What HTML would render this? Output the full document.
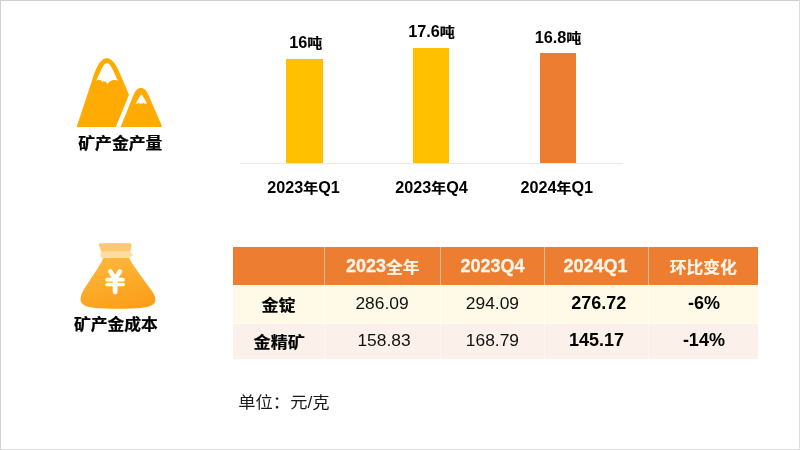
<!DOCTYPE html>
<html lang="zh">
<head>
<meta charset="utf-8">
<title>矿产金产量与成本</title>
<style>
html,body{margin:0;padding:0;background:#fff;}
body{width:800px;height:450px;position:relative;overflow:hidden;font-family:"Liberation Sans","Noto Sans CJK SC",sans-serif;color:#000;}
.abs{position:absolute;}
.frame{position:absolute;left:0;top:0;width:800px;height:450px;box-sizing:border-box;border-top:1px solid #cfcfcf;border-left:1px solid #d2d2d2;border-right:1px solid #dedede;border-bottom:1px solid #dedede;}
.t{position:absolute;white-space:nowrap;text-align:center;font-family:"Liberation Sans","Noto Sans CJK SC",sans-serif;transform:translateX(-50%);}
.lbl{font-weight:700;font-size:16.8px;line-height:20px;transform:translateX(-50%) scaleY(.92);-webkit-text-stroke:0.25px #000;}
.val{font-weight:700;font-size:15px;line-height:18px;}
.val .n{font-size:16.3px;}
.cat{font-weight:700;font-size:15px;line-height:18px;}
.cat .n{font-size:16.2px;}
.bar{position:absolute;}
.cellbg{position:absolute;}
.h{color:#fef5e8;font-weight:700;font-size:16.8px;line-height:20px;-webkit-text-stroke:0.3px #fef5e8;}
.h .n{font-size:18px;}
.c{display:inline-block;position:relative;top:1.3px;transform:scaleY(.93);-webkit-text-stroke:0.2px currentColor;}
.c0{display:inline-block;transform:scaleY(.92);transform-origin:50% 62%;-webkit-text-stroke:0.2px currentColor;}
.d{font-size:17.4px;line-height:20px;color:#111;}
.b{font-weight:700;color:#000;font-size:17.1px;}
.b .n{font-size:18px;}
</style>
</head>
<body>
<div class="frame"></div>


<!-- icons -->
<svg class="abs" style="left:0;top:0" width="800" height="450" viewBox="0 0 800 450">
  <defs>
    <linearGradient id="bagg" x1="0.2" y1="0" x2="0.6" y2="1">
      <stop offset="0" stop-color="#fdb83c"/>
      <stop offset="1" stop-color="#fb9f1a"/>
    </linearGradient>
  </defs>
  <!-- big mountain -->
  <path d="M76.600 127 L92 80.700 C95 71 99.500 58.300 106.700 58.300 C113 58.300 117 66 122.400 79.200 L129 94.800 L115.800 127 Z" fill="#ffab03"/>
  <path d="M96 81 L100.400 71.800 C102.500 67 104.500 62.900 107.100 62.900 C109.500 62.900 111.500 67 113.800 71.800 L117.800 80.500 Q116 79.600 113.500 80 Q109.500 80.500 107.500 84 Q106.500 81.500 104 81.300 Q102.800 81.300 102.300 82 Q101 79.500 98.500 79.800 Q96.800 80 96 81 Z" fill="#fff"/>
  <!-- small mountain -->
  <path d="M120.600 127 L133.600 94.800 C135.300 90.600 138 88 141 88 C144 88 146.700 90.600 148.400 94.800 L161.500 125 Q162.500 127 161 127 Z" fill="#ffab03"/>
  <path d="M140.500 95.300 Q141.400 93.800 142.300 95.300 L147.200 103.600 L144.200 103.600 Q143.400 102.200 142.600 103.600 L139.400 103.600 Q138.600 102.200 137.800 103.600 L135.600 103.600 Z" fill="#fff"/>
  <!-- money bag -->
  <path d="M100.300 243.300 Q115.300 242.500 130.300 243.300 Q132.300 243.500 131.600 245.500 L130.100 252 L101.400 252 L99 245.500 Q98.300 243.500 100.300 243.300 Z" fill="#fdc875"/>
  <path d="M103.500 257.500 C102 262 98 268 95.200 272 L84.800 288 C82 292.500 80.500 296 80.500 299.200 C80.500 303.500 84 305.800 90 307.300 C103 309.300 132 309.300 146 307.300 C152 305.800 155.400 303.500 155.400 300 C155.400 296.500 154 294 151.500 290.500 L139.500 274 C136 269 131 262 129 257.500 Z" fill="url(#bagg)"/>
  <rect x="100.500" y="251.600" width="30.400" height="6.400" rx="2" fill="#fedda3"/>
  <circle cx="131.300" cy="254.800" r="1.500" fill="#fedda3"/>
  <g stroke="#fff" stroke-linecap="round" fill="none">
    <path d="M110.300 271.300 L115.100 279 L120 271.300" stroke-width="4.500" stroke-linejoin="round"/>
    <path d="M115.100 279 L115.100 292.100" stroke-width="4.800"/>
    <path d="M107.200 279.700 H123" stroke-width="3.700"/>
    <path d="M107.200 284.500 H123" stroke-width="3.700"/>
  </g>
</svg>
<div class="t lbl" style="left:120.300px;top:134px;">矿产金产量</div>
<div class="t lbl" style="left:115.900px;top:314.900px;">矿产金成本</div>

<!-- chart -->
<div class="abs" style="left:240px;top:162.600px;width:382.500px;height:1px;background:#e9e9e9;"></div>
<div class="bar" style="left:286px;top:58.500px;width:36.600px;height:104.100px;background:#ffc000;"></div>
<div class="bar" style="left:412.800px;top:47.700px;width:36.600px;height:114.900px;background:#ffc000;"></div>
<div class="bar" style="left:539.500px;top:53px;width:36.600px;height:109.600px;background:#ed7d31;"></div>
<div class="t val" style="left:305.800px;top:33px;"><span class="n">16</span><span class="c0">吨</span></div>
<div class="t val" style="left:431.500px;top:22px;"><span class="n">17.6</span><span class="c0">吨</span></div>
<div class="t val" style="left:558px;top:27.500px;"><span class="n">16.8</span><span class="c0">吨</span></div>
<div class="t cat" style="left:303.500px;top:178px;"><span class="n">2023</span><span class="c0">年</span><span class="n">Q1</span></div>
<div class="t cat" style="left:431.500px;top:178px;"><span class="n">2023</span><span class="c0">年</span><span class="n">Q4</span></div>
<div class="t cat" style="left:556.800px;top:178px;"><span class="n">2024</span><span class="c0">年</span><span class="n">Q1</span></div>

<!-- table backgrounds -->
<div class="cellbg" style="left:233.300px;top:246.800px;width:524.900px;height:38.200px;background:#ed7d31;"></div>
<div class="cellbg" style="left:233.300px;top:285px;width:524.900px;height:38.600px;background:#fff9e7;"></div>
<div class="cellbg" style="left:233.300px;top:323.600px;width:524.900px;height:35.800px;background:#fcf0ea;"></div>
<!-- dividers -->
<div class="abs" style="left:323.800px;top:246.800px;width:1px;height:112.600px;background:rgba(255,255,255,.45);"></div>
<div class="abs" style="left:440.400px;top:246.800px;width:1px;height:112.600px;background:rgba(255,255,255,.45);"></div>
<div class="abs" style="left:544.300px;top:246.800px;width:1px;height:112.600px;background:rgba(255,255,255,.45);"></div>
<div class="abs" style="left:648.200px;top:246.800px;width:1px;height:112.600px;background:rgba(255,255,255,.45);"></div>

<div class="abs" style="left:233.300px;top:284.600px;width:524.900px;height:1px;background:rgba(255,255,255,.4);"></div>
<div class="abs" style="left:233.300px;top:323.100px;width:524.900px;height:1px;background:rgba(255,255,255,.55);"></div>
<!-- header text -->
<div class="t h" style="left:382.700px;top:256px;"><span class="n">2023</span><span class="c">全年</span></div>
<div class="t h" style="left:492.500px;top:256px;"><span class="n">2023Q4</span></div>
<div class="t h" style="left:595.500px;top:256px;"><span class="n">2024Q1</span></div>
<div class="t h" style="left:703.300px;top:257.900px;"><span class="c0">环比变化</span></div>

<!-- row 1 -->
<div class="t d b" style="left:278.500px;top:296.300px;"><span class="c0">金锭</span></div>
<div class="t d" style="left:382px;top:293px;">286.09</div>
<div class="t d" style="left:492.400px;top:293px;">294.09</div>
<div class="t d b" style="left:598.800px;top:293px;"><span class="n">276.72</span></div>
<div class="t d b" style="left:704px;top:293px;"><span class="n">-6%</span></div>

<!-- row 2 -->
<div class="t d b" style="left:279.200px;top:333.300px;"><span class="c0">金精矿</span></div>
<div class="t d" style="left:384px;top:330px;">158.83</div>
<div class="t d" style="left:492.400px;top:330px;">168.79</div>
<div class="t d b" style="left:596.600px;top:330px;"><span class="n">145.17</span></div>
<div class="t d b" style="left:703.900px;top:330px;"><span class="n">-14%</span></div>

<div class="abs" style="left:238.300px;top:390.400px;font-size:17.3px;line-height:24px;transform:scaleY(.95);white-space:nowrap;color:#1a1a1a;">单位：元/克</div>

</body>
</html>
